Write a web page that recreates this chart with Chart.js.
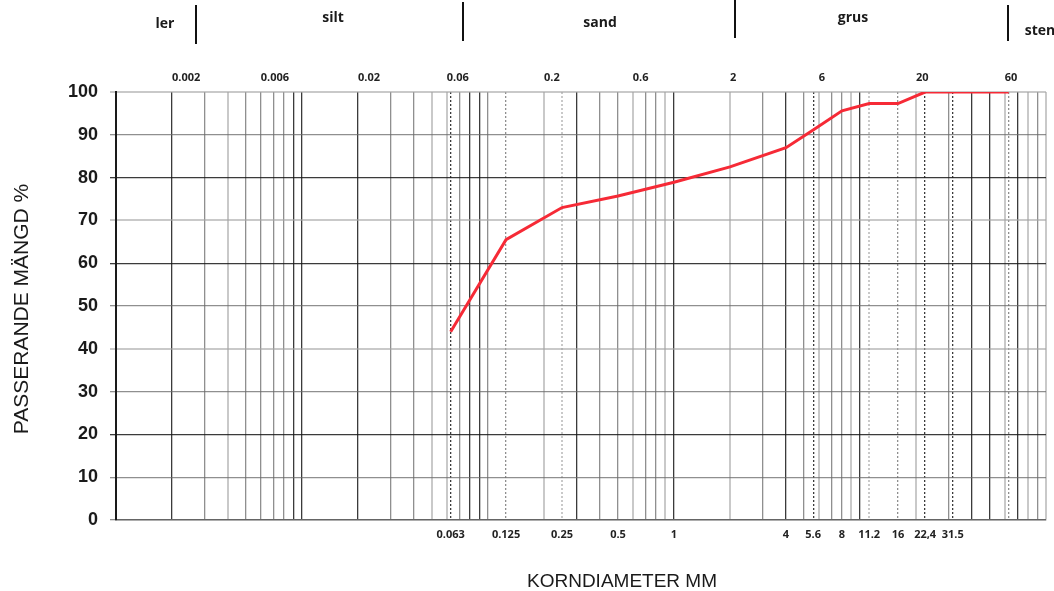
<!DOCTYPE html>
<html>
<head>
  <meta charset="utf-8">
  <title>Kornfördelning</title>
  <script src="https://cdn.jsdelivr.net/npm/chart.js"></script>
  <style>
    body { margin: 0; background: #fff; }
    canvas { display: block; }
  </style>
</head>
<body>
  <canvas id="sieveChart" width="1054" height="591"></canvas>
  <script>
    // sieve sizes (mm) and passing amount (%)
    const sieveSizes = [0.063, 0.125, 0.25, 0.5, 1, 2, 4, 5.6, 8, 11.2, 16, 22.4, 31.5, 63];
    const passing = [44, 65.5, 73, 75.7, 78.9, 82.5, 87, 91.1, 95.6, 97.3, 97.3, 100, 100, 100];
    const sieveLabels = ['0.063', '0.125', '0.25', '0.5', '1', '', '4', '5.6', '8', '11.2', '16', '22,4', '31.5', ''];
    const topTicks = [0.002, 0.006, 0.02, 0.06, 0.2, 0.6, 2, 6, 20, 60];
    const topLabels = ['0.002', '0.006', '0.02', '0.06', '0.2', '0.6', '2', '6', '20', '60'];
    const zoneNames = ['ler', 'silt', 'sand', 'grus', 'sten'];

    // line shading of the log grid, as in the printed form
    const darkLines = [0.001, 0.002, 0.009, 0.01, 0.02, 0.08, 0.09, 0.3, 1, 4, 10, 40, 50, 70, 0.063, 5.6, 22.4, 31.5];
    const lightLines = [0.004, 0.05, 0.06, 0.2, 0.6, 0.9, 2, 6, 9, 20, 60, 80, 100, 0.25, 11.2];
    const yDark = [20, 60, 80];
    const yLight = [40, 70, 100];

    const DARK = 'rgba(25,25,25,0.85)';
    const MID = 'rgba(105,105,105,0.75)';
    const LIGHT = 'rgba(165,165,165,0.6)';

    function same(a, b) { return Math.abs(a / b - 1) < 1e-6; }
    function inList(list, v) { return list.some(x => same(x, v)); }

    // 1..9 per decade from 0.001 to 100, plus the sieve sizes in between
    const gridValues = [];
    for (let e = -3; e <= 1; e++) {
      for (let m = 1; m <= 9; m++) gridValues.push(Number((m * Math.pow(10, e)).toPrecision(3)));
    }
    gridValues.push(100);
    const regular = gridValues.slice();
    sieveSizes.forEach(s => { if (!inList(gridValues, s)) gridValues.push(s); });
    gridValues.sort((a, b) => a - b);

    function isDashed(v) { return inList(sieveSizes, v) && !inList(regular, v); }
    function xColor(v) {
      if (inList(darkLines, v)) return DARK;
      if (inList(lightLines, v)) return LIGHT;
      return MID;
    }
    function sieveLabel(v) {
      const i = sieveSizes.findIndex(s => same(s, v));
      return i >= 0 ? sieveLabels[i] : '';
    }

    const textPlugin = {
      id: 'textPlugin',
      afterDraw(chart) {
        const ctx = chart.ctx;
        ctx.save();
        ctx.fillStyle = '#1a1a1a';
        ctx.textAlign = 'center';
        ctx.textBaseline = 'middle';
        ctx.font = '19px "Liberation Sans", Arial, sans-serif';
        ctx.fillText('KORNDIAMETER MM', 622, 582);
        ctx.save();
        ctx.translate(22, 309);
        ctx.rotate(-Math.PI / 2);
        ctx.font = '21px "Liberation Sans", Arial, sans-serif';
        ctx.fillText('PASSERANDE MÄNGD %', 0, 0);
        ctx.restore();

        // soil class header
        const namePos = [[165, 24], [333, 18], [600, 23], [853, 18], [1040, 31]];
        ctx.font = 'bold 14px "Open Sans", sans-serif';
        zoneNames.forEach((n, i) => ctx.fillText(n, namePos[i][0], namePos[i][1]));
        const seps = [[196, 5, 44], [463, 2, 41], [735, 0, 38], [1008, 5, 41]];
        ctx.strokeStyle = '#111';
        ctx.lineWidth = 2;
        seps.forEach(s => {
          ctx.beginPath();
          ctx.moveTo(s[0], s[1]);
          ctx.lineTo(s[0], s[2]);
          ctx.stroke();
        });
        ctx.restore();
      }
    };

    const smallFont = { family: '"Open Sans", sans-serif', size: 11, weight: 'bold' };

    new Chart(document.getElementById('sieveChart'), {
      type: 'line',
      data: {
        datasets: [{
          data: sieveSizes.map((s, i) => ({ x: s, y: passing[i] })),
          borderColor: '#f62a36',
          borderWidth: 3,
          pointRadius: 0,
          tension: 0
        }]
      },
      options: {
        responsive: false,
        animation: false,
        layout: { padding: { left: 0, right: 5, top: 0, bottom: 0 } },
        plugins: { legend: { display: false }, tooltip: { enabled: false } },
        scales: {
          x: {
            type: 'logarithmic',
            position: 'bottom',
            min: 0.001,
            max: 100,
            afterBuildTicks: s => { s.ticks = gridValues.map(v => ({ value: v })); },
            afterFit: s => { s.height = 71; },
            ticks: {
              autoSkip: false, maxRotation: 0, minRotation: 0, padding: 8,
              color: '#222', font: smallFont,
              callback: v => sieveLabel(v)
            },
            grid: {
              drawTicks: false,
              color: c => c.tick ? xColor(c.tick.value) : MID,
              lineWidth: c => (c.tick && inList(lightLines, c.tick.value)) ? 2 : 1.3
            },
            border: {
              color: 'rgba(90,90,90,0.8)', width: 1.5,
              dash: c => (c.tick && isDashed(c.tick.value)) ? [2, 2] : []
            }
          },
          x2: {
            type: 'logarithmic',
            position: 'top',
            min: 0.001,
            max: 100,
            afterBuildTicks: s => { s.ticks = topTicks.map(v => ({ value: v })); },
            afterFit: s => { s.height = 92; },
            ticks: {
              autoSkip: false, maxRotation: 0, minRotation: 0, align: 'start', padding: 0,
              color: '#222', font: smallFont,
              callback: (v, i) => topLabels[i]
            },
            grid: { display: false },
            border: { display: false }
          },
          y: {
            min: 0,
            max: 100,
            afterFit: s => { s.width = 116; },
            ticks: {
              stepSize: 10, padding: 12, color: '#1a1a1a',
              font: { family: '"Liberation Sans", Arial, sans-serif', size: 18, weight: 'bold' }
            },
            grid: {
              tickLength: 6,
              color: c => {
                const v = c.tick ? c.tick.value : 0;
                if (yDark.includes(v)) return DARK;
                if (yLight.includes(v)) return LIGHT;
                return MID;
              },
              lineWidth: c => (c.tick && yLight.includes(c.tick.value)) ? 2 : 1.3
            },
            border: { color: '#1a1a1a', width: 2 }
          }
        }
      },
      plugins: [textPlugin]
    });
  </script>
</body>
</html>
